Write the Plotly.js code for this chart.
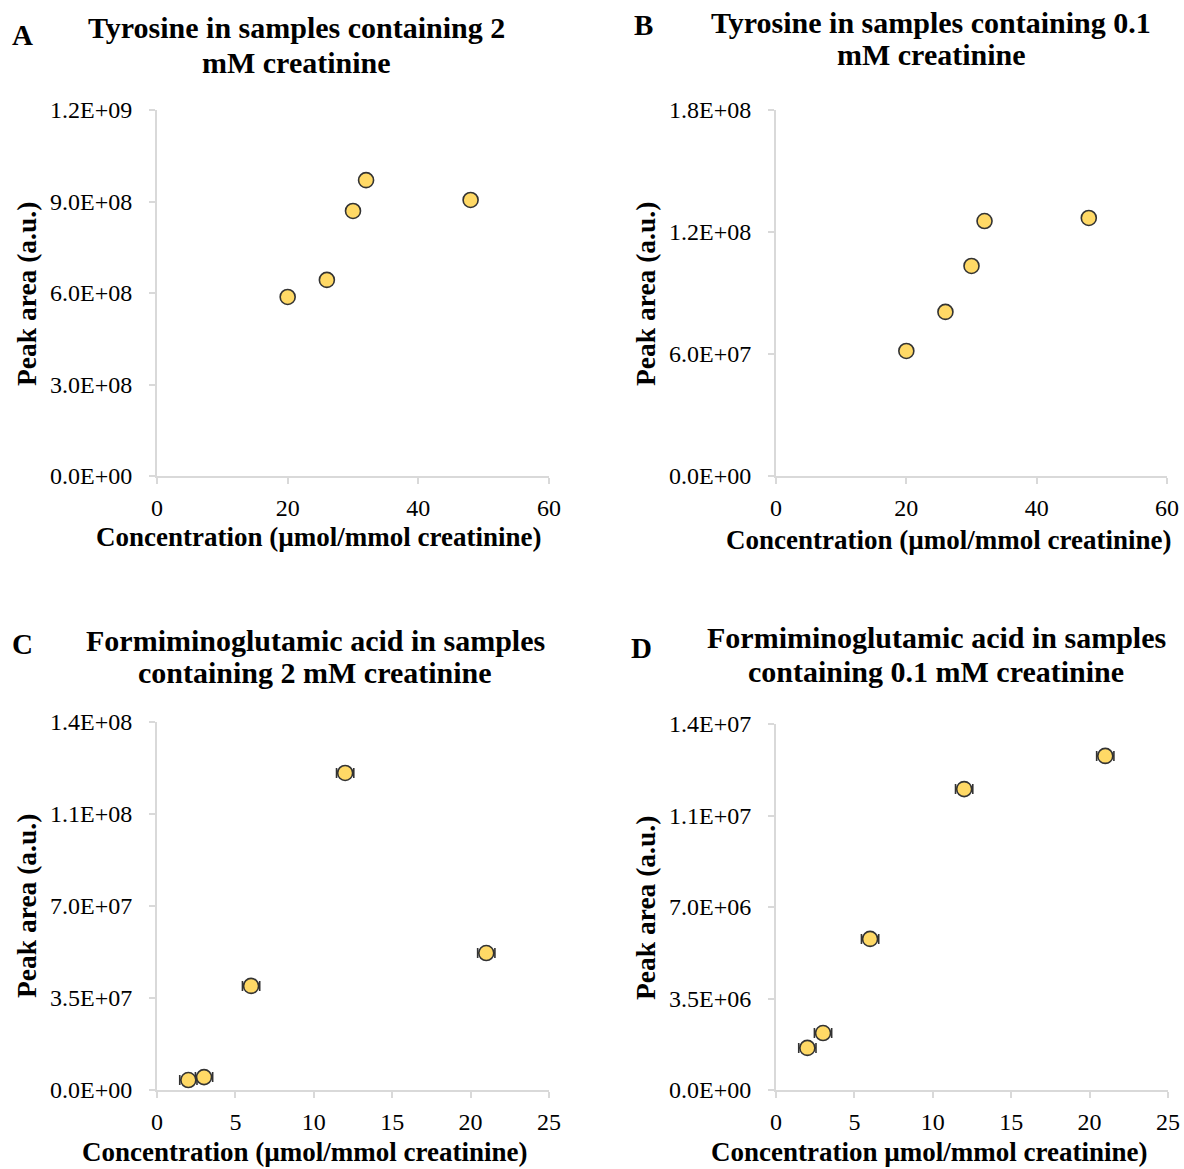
<!DOCTYPE html>
<html>
<head>
<meta charset="utf-8">
<script src="https://cdn.plot.ly/plotly-3.0.1.min.js"></script>
<style>html,body{margin:0;padding:0;background:#fff;}#chart{width:1184px;height:1169px;}</style>
</head>
<body>
<div id="chart"></div>
<script>
// Panel A: Tyrosine, 2 mM creatinine
const aX = [20, 26, 30, 32, 48];
const aY = [5.87e8, 6.43e8, 8.69e8, 9.70e8, 9.05e8];
// Panel B: Tyrosine, 0.1 mM creatinine
const bX = [20, 26, 30, 32, 48];
const bY = [6.15e7, 8.07e7, 1.033e8, 1.254e8, 1.269e8];
// Panel C: Formiminoglutamic acid, 2 mM creatinine
const cX = [2, 3, 6, 12, 21];
const cY = [3.8e6, 4.9e6, 3.96e7, 1.206e8, 5.21e7];
const cErrX = [0.55, 0.55, 0.55, 0.55, 0.55];
// Panel D: Formiminoglutamic acid, 0.1 mM creatinine
const dX = [2, 3, 6, 12, 21];
const dY = [1.61e6, 2.18e6, 5.78e6, 1.151e7, 1.278e7];
const dErrX = [0.55, 0.55, 0.55, 0.55, 0.55];

const xTicksAB = [0, 20, 40, 60];
const xTicksCD = [0, 5, 10, 15, 20, 25];
const aYTicks = [0, 3e8, 6e8, 9e8, 1.2e9];
const aYTickText = ['0.0E+00', '3.0E+08', '6.0E+08', '9.0E+08', '1.2E+09'];
const bYTicks = [0, 6e7, 1.2e8, 1.8e8];
const bYTickText = ['0.0E+00', '6.0E+07', '1.2E+08', '1.8E+08'];
const cYTicks = [0, 3.5e7, 7e7, 1.05e8, 1.4e8];
const cYTickText = ['0.0E+00', '3.5E+07', '7.0E+07', '1.1E+08', '1.4E+08'];
const dYTicks = [0, 3.5e6, 7e6, 1.05e7, 1.4e7];
const dYTickText = ['0.0E+00', '3.5E+06', '7.0E+06', '1.1E+07', '1.4E+07'];

const panelTitleLines = [
  ['Tyrosine in samples containing 2', 'mM creatinine'],
  ['Tyrosine in samples containing 0.1', 'mM creatinine'],
  ['Formiminoglutamic acid in samples', 'containing 2 mM creatinine'],
  ['Formiminoglutamic acid in samples', 'containing 0.1 mM creatinine']
];
const panelLetters = ['A', 'B', 'C', 'D'];
const xTitles = [
  'Concentration (µmol/mmol creatinine)',
  'Concentration (µmol/mmol creatinine)',
  'Concentration (µmol/mmol creatinine)',
  'Concentration µmol/mmol creatinine)'
];
const yTitle = 'Peak area (a.u.)';

const W = 1184, H = 1169;
const FONT = 'Liberation Serif, Times New Roman, serif';
const fx = p => p / W;
const fy = p => 1 - p / H;

const marker = {size: 15, color: '#FFD966', line: {color: '#333333', width: 1.6}};
const errStyle = (arr) => ({type: 'data', array: arr, visible: true, color: '#333333', thickness: 1.6, width: 5});

const traces = [
  {x: aX, y: aY, type: 'scatter', mode: 'markers', marker: marker, xaxis: 'x', yaxis: 'y'},
  {x: bX, y: bY, type: 'scatter', mode: 'markers', marker: marker, xaxis: 'x2', yaxis: 'y2'},
  {x: cX, y: cY, type: 'scatter', mode: 'markers', marker: marker, error_x: errStyle(cErrX), xaxis: 'x3', yaxis: 'y3'},
  {x: dX, y: dY, type: 'scatter', mode: 'markers', marker: marker, error_x: errStyle(dErrX), xaxis: 'x4', yaxis: 'y4'}
];

// plot areas in pixels [x0, x1, yTop, yBottom]
const boxes = [
  [157, 549, 110, 476],
  [776, 1167, 110, 476],
  [157, 549, 722, 1090],
  [776, 1168, 724, 1090]
];

function xAxis(i, range, ticks) {
  const b = boxes[i];
  return {
    domain: [fx(b[0]), fx(b[1])], range: range, anchor: i === 0 ? 'y' : 'y' + (i + 1),
    tickvals: ticks, ticktext: ticks.map(String),
    showline: true, linecolor: '#d9d9d9', linewidth: 2,
    ticks: 'outside', ticklen: 6, tickwidth: 2, tickcolor: '#d9d9d9',
    showgrid: false, zeroline: false, ticklabelstandoff: 3,
    tickfont: {family: FONT, size: 24, color: '#000'}
  };
}
function yAxis(i, range, ticks, text) {
  const b = boxes[i];
  return {
    domain: [fy(b[3]), fy(b[2])], range: range, anchor: i === 0 ? 'x' : 'x' + (i + 1),
    tickvals: ticks, ticktext: text,
    showline: true, linecolor: '#d9d9d9', linewidth: 2,
    ticks: 'outside', ticklen: 6, tickwidth: 2, tickcolor: '#d9d9d9',
    showgrid: false, zeroline: false, ticklabelstandoff: 12,
    tickfont: {family: FONT, size: 24, color: '#000'}
  };
}

// title line centers [x, yLine1, yLine2]
const titlePos = [[296, 28, 62], [931, 22, 55], [315, 640, 672], [936, 637, 671]];
const letterPos = [[22, 35], [643, 25], [22, 644], [641, 648]];
const xTitlePos = [[318, 537], [948, 540], [304, 1152], [929, 1152]];
const yTitlePos = [[26, 294], [645, 294], [26, 906], [645, 908]];

const annotations = [];
for (let i = 0; i < 4; i++) {
  for (let j = 0; j < 2; j++) {
    annotations.push({
      text: '<b>' + panelTitleLines[i][j] + '</b>', xref: 'paper', yref: 'paper',
      x: fx(titlePos[i][0]), y: fy(titlePos[i][j + 1]), xanchor: 'center', yanchor: 'middle',
      showarrow: false, font: {family: FONT, size: 30, color: '#000'}
    });
  }
  annotations.push({
    text: '<b>' + panelLetters[i] + '</b>', xref: 'paper', yref: 'paper',
    x: fx(letterPos[i][0]), y: fy(letterPos[i][1]), xanchor: 'center', yanchor: 'middle',
    showarrow: false, font: {family: FONT, size: 29, color: '#000'}
  });
  annotations.push({
    text: '<b>' + xTitles[i] + '</b>', xref: 'paper', yref: 'paper',
    x: fx(xTitlePos[i][0]), y: fy(xTitlePos[i][1]), xanchor: 'center', yanchor: 'middle',
    showarrow: false, font: {family: FONT, size: 27, color: '#000'}
  });
  annotations.push({
    text: '<b>' + yTitle + '</b>', xref: 'paper', yref: 'paper', textangle: -90,
    x: fx(yTitlePos[i][0]), y: fy(yTitlePos[i][1]), xanchor: 'center', yanchor: 'middle',
    showarrow: false, font: {family: FONT, size: 27.5, color: '#000'}
  });
}

const layout = {
  width: W, height: H, margin: {l: 0, r: 0, t: 0, b: 0},
  paper_bgcolor: '#fff', plot_bgcolor: '#fff', showlegend: false,
  font: {family: FONT, color: '#000'},
  xaxis: xAxis(0, [0, 60], xTicksAB),
  yaxis: yAxis(0, [0, 1.2e9], aYTicks, aYTickText),
  xaxis2: xAxis(1, [0, 60], xTicksAB),
  yaxis2: yAxis(1, [0, 1.8e8], bYTicks, bYTickText),
  xaxis3: xAxis(2, [0, 25], xTicksCD),
  yaxis3: yAxis(2, [0, 1.4e8], cYTicks, cYTickText),
  xaxis4: xAxis(3, [0, 25], xTicksCD),
  yaxis4: yAxis(3, [0, 1.4e7], dYTicks, dYTickText),
  annotations: annotations
};

Plotly.newPlot('chart', traces, layout, {displayModeBar: false, staticPlot: true});
</script>
</body>
</html>
